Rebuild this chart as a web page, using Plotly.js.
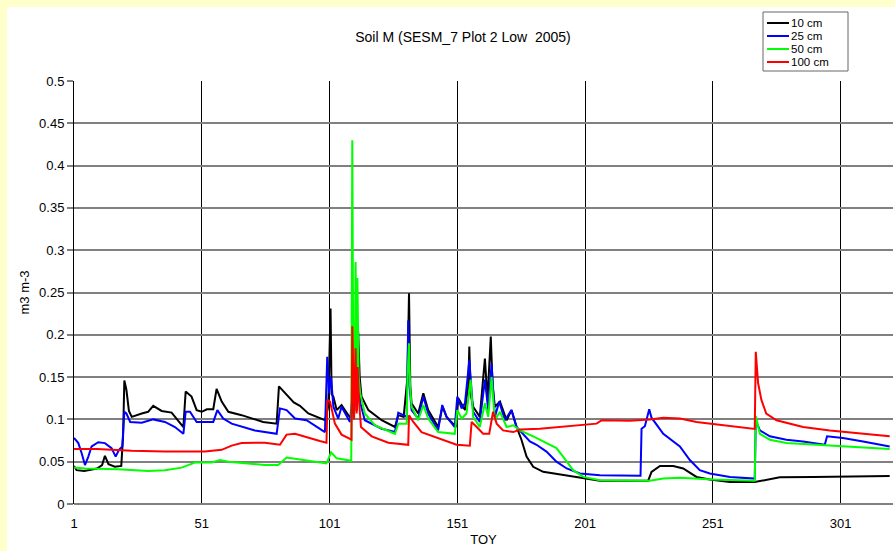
<!DOCTYPE html>
<html>
<head>
<meta charset="utf-8">
<script src="https://cdn.plot.ly/plotly-3.0.1.min.js"></script>
<style>html,body{margin:0;padding:0;background:#FFFFCC;}#chart{width:895px;height:551px;}</style>
</head>
<body>
<div id="chart"></div>
<script>
// Series names
const seriesNames = ["10 cm", "25 cm", "50 cm", "100 cm"];
const seriesColors = ["#000000", "#0000FF", "#00FF00", "#FF0000"];

// 10 cm
const toy10 = [1,2,5,10,12,13.1,14.5,17,19.5,20.2,20.7,21.5,22.5,23.6,27.5,30,32,35.3,39.2,42,43.8,44.7,47,49,51,53,55.5,56.8,58.8,61.4,66.6,75,80.3,81.2,84.8,87,89.4,92.7,99.2,100.5,101.4,101.8,102.5,103.8,105.7,108.3,109.6,110.2,111,111.6,112.2,112.8,113.5,116.2,121.4,126.6,127.9,130,131.5,132.1,132.6,133.1,135.7,137.7,139.6,143.5,145.2,146.8,150.5,151.4,154,155.3,155.7,156.2,157.2,159.8,161.8,162.8,164.1,164.8,165.7,167.7,170.3,172.2,174.2,176.1,178.1,180.7,184.6,191.1,200.3,206.8,225.7,227,230.3,235.5,239.4,244.6,249.8,257.7,267.4,273.3,277.2,290.2,309.8,320.2];
const sm10 = [0.045,0.040,0.039,0.042,0.046,0.057,0.047,0.044,0.045,0.080,0.146,0.135,0.110,0.103,0.107,0.109,0.116,0.110,0.108,0.097,0.091,0.133,0.127,0.111,0.109,0.112,0.112,0.136,0.121,0.109,0.105,0.097,0.095,0.139,0.127,0.120,0.116,0.107,0.099,0.115,0.231,0.130,0.127,0.111,0.117,0.105,0.101,0.125,0.135,0.110,0.204,0.150,0.127,0.111,0.099,0.091,0.105,0.103,0.150,0.249,0.140,0.119,0.107,0.131,0.111,0.091,0.115,0.103,0.091,0.125,0.111,0.140,0.186,0.130,0.115,0.103,0.172,0.123,0.198,0.140,0.115,0.121,0.099,0.111,0.091,0.076,0.056,0.044,0.038,0.035,0.030,0.0276,0.0276,0.038,0.045,0.045,0.042,0.032,0.029,0.026,0.026,0.0296,0.0315,0.032,0.033,0.033];

// 25 cm
const toy25 = [1,2.7,4,5.3,6.6,7.9,10.5,13.1,15.7,17.3,18.6,19.9,20.7,21.5,23,27.5,32,36.6,40.5,43.8,44.7,46.4,49,55.5,57.1,59.4,62.7,71.8,80.3,81.6,84.2,87.5,92,99.2,100.1,100.8,101.6,102.5,104.4,105.7,109,110,110.8,111.5,112.3,113,114.8,121.4,126.6,127.9,131.2,131.8,132.3,133.1,135.7,137.7,139.6,143.5,145.1,146.8,150,151,152.7,154,155.7,157.2,159.8,161.8,163.1,164.4,165.7,167.4,169.6,172.2,174.2,176.8,179.4,182,185.9,189.8,193.8,199,206.8,222.7,223.1,224.4,225.3,226.1,227,231.6,238.1,242,245.9,249.8,257.7,267.4,267.8,269.4,273.3,279.8,286.3,294.8,295.7,301.9,309.8,320.2];
const sm25 = [0.078,0.072,0.060,0.046,0.056,0.068,0.073,0.072,0.066,0.056,0.064,0.068,0.109,0.107,0.097,0.096,0.100,0.097,0.091,0.083,0.109,0.109,0.097,0.097,0.111,0.101,0.095,0.087,0.083,0.113,0.111,0.101,0.099,0.085,0.174,0.131,0.150,0.115,0.101,0.115,0.097,0.130,0.115,0.150,0.160,0.120,0.099,0.089,0.085,0.108,0.103,0.217,0.140,0.111,0.101,0.127,0.107,0.087,0.117,0.103,0.091,0.127,0.113,0.119,0.170,0.109,0.097,0.147,0.111,0.166,0.103,0.121,0.099,0.111,0.091,0.082,0.074,0.070,0.062,0.050,0.042,0.036,0.034,0.0335,0.089,0.092,0.103,0.112,0.102,0.083,0.068,0.052,0.040,0.036,0.032,0.030,0.099,0.087,0.080,0.076,0.074,0.070,0.080,0.078,0.074,0.068];

// 50 cm
const toy50 = [1,5.3,18.3,30,36.6,43.1,45.7,48.3,54.9,58.1,61.4,70.5,75.7,80.9,84.2,88.8,99.8,100.8,101.6,103.8,109.5,109.9,110.3,110.8,111.2,111.6,111.9,112.4,113,114.8,118.8,126.6,127.9,131.2,131.5,132.1,132.5,133.1,135.7,137.7,139.6,143.5,150,151,152.7,154.6,156.2,157.2,159.8,161.8,163.1,164.4,165.7,167.7,170.3,172.9,175.5,180.7,185.9,189.8,192.4,196.3,200.3,206.8,226.3,231.6,238.1,251.1,267.4,267.8,269.4,273.3,279.8,290.2,303.3,320.2];
const sm50 = [0.043,0.042,0.041,0.039,0.040,0.043,0.046,0.049,0.049,0.052,0.050,0.048,0.046,0.046,0.055,0.053,0.048,0.055,0.061,0.054,0.051,0.430,0.150,0.110,0.286,0.160,0.267,0.150,0.131,0.107,0.093,0.083,0.095,0.095,0.150,0.190,0.140,0.115,0.099,0.117,0.101,0.085,0.083,0.111,0.101,0.107,0.147,0.103,0.091,0.119,0.103,0.150,0.099,0.109,0.091,0.093,0.087,0.080,0.072,0.066,0.056,0.040,0.032,0.028,0.0276,0.030,0.031,0.029,0.0276,0.104,0.083,0.076,0.072,0.070,0.068,0.065];

// 100 cm
const toy100 = [1,10,23.6,36.6,52.2,58.8,62.7,66.6,75.7,80.3,81.6,84.2,87.5,97.2,99.8,100.2,101.2,103.1,105.7,109.6,109.9,110.3,110.6,111.2,111.6,112,112.5,113.3,117.5,124,131.8,132.1,133.8,137,144.8,150.7,155.9,156.6,158.6,161.1,163.5,165,166.4,168.9,172.9,175.5,183.3,193.8,205.5,207.5,218.5,226.3,231.6,238.1,244.6,251.1,257.7,267.4,267.8,268.7,270,271.9,275.9,278.5,286.3,296.8,309.8,320.2];
const sm100 = [0.065,0.065,0.063,0.062,0.062,0.064,0.069,0.072,0.0725,0.070,0.070,0.082,0.083,0.0745,0.0725,0.123,0.121,0.095,0.082,0.076,0.210,0.155,0.100,0.184,0.107,0.162,0.123,0.091,0.080,0.0725,0.070,0.105,0.097,0.085,0.076,0.070,0.069,0.097,0.091,0.083,0.083,0.109,0.095,0.087,0.085,0.088,0.089,0.092,0.095,0.099,0.0985,0.100,0.102,0.101,0.097,0.0945,0.092,0.0887,0.180,0.143,0.123,0.107,0.099,0.097,0.091,0.087,0.083,0.080];

// Axis ticks
const xTicks = [1, 51, 101, 151, 201, 251, 301];
const yTicks = [0, 0.05, 0.1, 0.15, 0.2, 0.25, 0.3, 0.35, 0.4, 0.45, 0.5];

const xs = [toy10, toy25, toy50, toy100];
const ys = [sm10, sm25, sm50, sm100];

const FONT = "Liberation Sans, Arial, sans-serif";

const traces = seriesNames.map((n, i) => ({
  type: "scatter", mode: "lines", name: n,
  x: xs[i], y: ys[i],
  line: {color: seriesColors[i], width: 2},
  showlegend: false
}));

// plot area geometry
const L = 74, R = 2, T = 81, B = 47, W = 895, H = 551;
const pw = W - L - R, ph = H - T - B;
const px2x = p => (p - L) / pw;
const py2y = p => (H - B - p) / ph;

const shapes = [
  {type: "rect", xref: "paper", yref: "paper", layer: "below",
   x0: px2x(7), x1: px2x(900), y0: py2y(560), y1: py2y(7),
   fillcolor: "#FFFFFF", line: {width: 0}},
  {type: "rect", xref: "paper", yref: "paper",
   x0: px2x(763), x1: px2x(848), y0: py2y(71), y1: py2y(12),
   fillcolor: "#FFFFFF", line: {color: "#666666", width: 1}}
];
const annotations = [];
const legY = [23, 36, 49, 62];
seriesNames.forEach((n, i) => {
  shapes.push({type: "line", xref: "paper", yref: "paper",
    x0: px2x(767), x1: px2x(789), y0: py2y(legY[i]), y1: py2y(legY[i]),
    line: {color: seriesColors[i], width: 2}});
  annotations.push({xref: "paper", yref: "paper", x: px2x(790), y: py2y(legY[i]),
    xanchor: "left", yanchor: "middle", text: n, showarrow: false,
    borderpad: 0, valign: "middle",
    font: {family: FONT, size: 11.5, color: "#000"}});
});

const layout = {
  width: W, height: H,
  margin: {l: L, r: R, t: T, b: B},
  paper_bgcolor: "#FFFFCC",
  plot_bgcolor: "#FFFFFF",
  font: {family: FONT, size: 13, color: "#000"},
  title: {text: "Soil M (SESM_7 Plot 2 Low  2005)", x: 463 / W, xanchor: "center",
          xref: "container", y: 1 - 37 / H, yanchor: "middle", yref: "container",
          font: {family: FONT, size: 14, color: "#000"}},
  xaxis: {
    range: [1, 321.5], tickvals: xTicks, ticktext: xTicks.map(String),
    showgrid: true, gridcolor: "#000000", gridwidth: 1,
    zeroline: false, showline: false, ticks: "", ticklabelstandoff: 10,
    tickfont: {family: FONT, size: 13},
    title: {text: "TOY", font: {family: FONT, size: 13}, standoff: 4}
  },
  yaxis: {
    range: [0, 0.5], tickvals: yTicks, ticktext: yTicks.map(String),
    showgrid: true, gridcolor: "#808080", gridwidth: 2,
    zeroline: true, zerolinecolor: "#808080", zerolinewidth: 2,
    showline: true, linecolor: "#000000", linewidth: 1,
    ticks: "outside", ticklen: 6, tickcolor: "#808080", tickwidth: 2,
    tickfont: {family: FONT, size: 13},
    title: {text: "m3 m-3", font: {family: FONT, size: 13}, standoff: 6}
  },
  shapes: shapes,
  annotations: annotations,
  showlegend: false
};

Plotly.newPlot("chart", traces, layout, {displayModeBar: false, staticPlot: true});
</script>
</body>
</html>
